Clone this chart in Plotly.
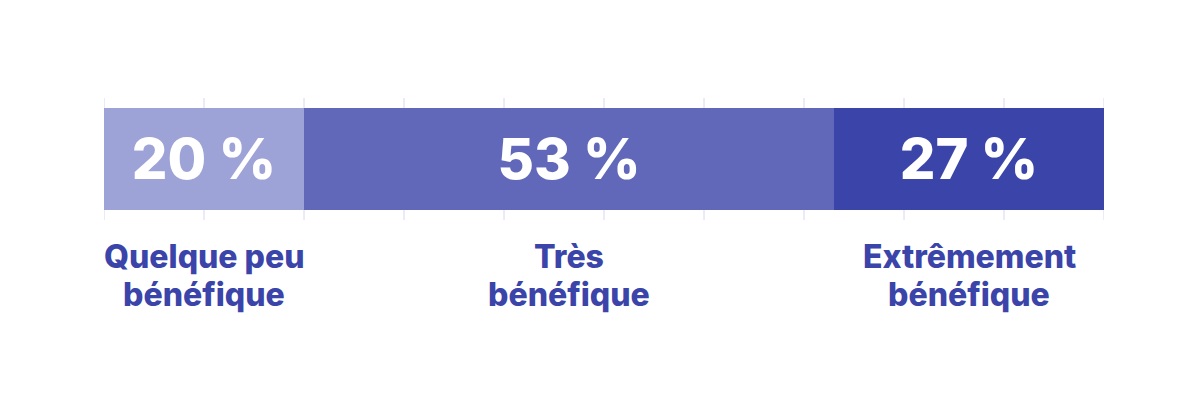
import plotly.graph_objects as go

categories = ["Quelque peu<br>bénéfique", "Très<br>bénéfique", "Extrêmement<br>bénéfique"]
values = [20, 53, 27]
colors = ["#9DA2D7", "#6168BA", "#3B44A9"]
label_color = "#3B44A9"
grid_ticks = list(range(0, 101, 10))

fig = go.Figure()
for cat, val, col in zip(categories, values, colors):
    fig.add_trace(go.Bar(
        x=[val], y=[0], orientation="h", name=cat,
        marker=dict(color=col, line=dict(width=0)),
        width=0.83,
        text=[f"{val} %"], textposition="inside", insidetextanchor="middle",
        textfont=dict(color="white", size=56, family="Inter", weight=800),
        hoverinfo="skip",
    ))

# vertical grid lines (drawn below the bars)
for t in grid_ticks:
    fig.add_shape(type="line", xref="x", yref="paper", x0=t, x1=t, y0=0, y1=1,
                  line=dict(color="#D6D8EF", width=1), layer="below")

cum = 0
for cat, val in zip(categories, values):
    center = cum + val / 2
    cum += val
    for i, line in enumerate(cat.split("<br>")):
        fig.add_annotation(
            x=center, xref="x", y=0, yref="paper", yanchor="middle",
            text=line, showarrow=False, yshift=-36 - 38 * i,
            font=dict(color=label_color, size=32, family="Inter", weight=800),
            align="center",
        )

fig.update_layout(
    barmode="stack",
    width=1200, height=400,
    margin=dict(l=96, r=104, t=90, b=188),
    plot_bgcolor="white", paper_bgcolor="white",
    showlegend=False,
    uniformtext=dict(mode=False),
    xaxis=dict(range=[0, 100], showticklabels=False, showgrid=False,
               zeroline=False, showline=False, fixedrange=True),
    yaxis=dict(range=[-0.5, 0.5], showticklabels=False, showgrid=False,
               zeroline=False, showline=False, fixedrange=True),
)

fig.write_html("out.html")
